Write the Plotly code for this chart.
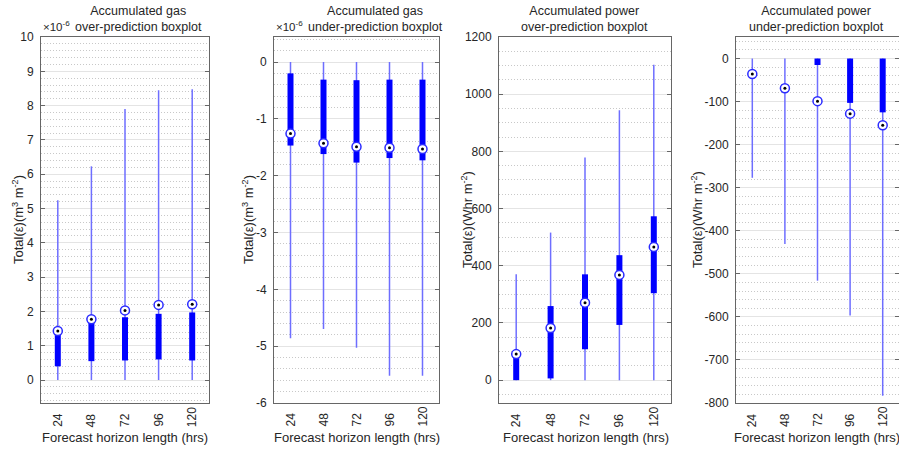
import plotly.graph_objects as go

W, H = 899, 449

horizons = ["24", "48", "72", "96", "120"]

# Accumulated gas over-prediction (x 1e-6 m^3 m^-2)
gas_over_min = [0, 0, 0, 0, 0]
gas_over_q1 = [0.40, 0.55, 0.57, 0.60, 0.57]
gas_over_q3 = [1.35, 1.70, 1.83, 1.93, 1.97]
gas_over_med = [1.43, 1.77, 2.03, 2.19, 2.21]
gas_over_max = [5.24, 6.23, 7.90, 8.45, 8.48]

# Accumulated gas under-prediction (x 1e-6 m^3 m^-2)
gas_under_max = [0, 0, 0, 0, 0]
gas_under_q3 = [-0.20, -0.31, -0.32, -0.31, -0.31]
gas_under_q1 = [-1.47, -1.62, -1.77, -1.69, -1.73]
gas_under_med = [-1.26, -1.43, -1.49, -1.51, -1.53]
gas_under_min = [-4.86, -4.70, -5.03, -5.52, -5.52]

# Accumulated power over-prediction (Whr m^-2)
pow_over_min = [0, 0, 0, 0, 0]
pow_over_q1 = [0, 6, 108, 193, 304]
pow_over_q3 = [80, 259, 370, 437, 573]
pow_over_med = [91, 182, 271, 368, 466]
pow_over_max = [370, 516, 779, 944, 1103]

# Accumulated power under-prediction (Whr m^-2)
pow_under_max = [0, 0, 0, 0, 0]
pow_under_q3 = [0, 0, 0, 0, 0]
pow_under_q1 = [0, 0, -15, -103, -125]
pow_under_med = [-36, -69, -99, -128, -155]
pow_under_min = [-277, -431, -516, -597, -783]

titles = ["Accumulated gas<br>over-prediction boxplot",
          "Accumulated gas<br>under-prediction boxplot",
          "Accumulated power<br>over-prediction boxplot",
          "Accumulated power<br>under-prediction boxplot"]
ylabels = ["Total(ε)(m<sup>3</sup> m<sup>-2</sup>)",
           "Total(ε)(m<sup>3</sup> m<sup>-2</sup>)",
           "Total(ε)(Whr m<sup>-2</sup>)",
           "Total(ε)(Whr m<sup>-2</sup>)"]
xlabel = "Forecast horizon length (hrs)"

panels = [
    dict(lo=gas_over_min, q1=gas_over_q1, q3=gas_over_q3, med=gas_over_med, hi=gas_over_max,
         yrange=[-0.67, 10], ticks=list(range(0, 11)), minor=0.2, exp=True),
    dict(lo=gas_under_min, q1=gas_under_q1, q3=gas_under_q3, med=gas_under_med, hi=gas_under_max,
         yrange=[-6, 0.44], ticks=list(range(-6, 1)), minor=0.2, exp=True),
    dict(lo=pow_over_min, q1=pow_over_q1, q3=pow_over_q3, med=pow_over_med, hi=pow_over_max,
         yrange=[-80, 1200], ticks=list(range(0, 1201, 200)), minor=50, exp=False),
    dict(lo=pow_under_min, q1=pow_under_q1, q3=pow_under_q3, med=pow_under_med, hi=pow_under_max,
         yrange=[-800, 50], ticks=list(range(-800, 1, 100)), minor=20, exp=False),
]

# layout geometry (pixels)
xdom_px = [(41, 209), (274, 439), (499, 671), (736, 899)]
ytop, ybot = 37, 403
title_cx = [138.5, 375.5, 584, 816]
ytitle_cx = [18, 248, 467, 697]
xtitle_cx = [125, 357, 586, 817]

FONT = "Liberation Sans, Arial, sans-serif"
TXT = "#262626"
BLUE = "#0000ff"
WHISK = "rgb(110,110,255)"

def px2x(p):
    return p / W

def px2y(p):
    return 1 - p / H

fig = go.Figure()
xpos = list(range(1, len(horizons) + 1))

for i, p in enumerate(panels):
    n = "" if i == 0 else str(i + 1)
    xa, ya = "x" + n, "y" + n
    # whiskers
    wx, wy = [], []
    for k, x in enumerate(xpos):
        wx += [x, x, None]
        wy += [p["lo"][k], p["hi"][k], None]
    fig.add_trace(go.Scatter(x=wx, y=wy, mode="lines", xaxis=xa, yaxis=ya,
                             line=dict(color=WHISK, width=1.5), showlegend=False,
                             hoverinfo="skip"))
    # boxes
    bx, by = [], []
    for k, x in enumerate(xpos):
        bx += [x, x, None]
        by += [p["q1"][k], p["q3"][k], None]
    fig.add_trace(go.Scatter(x=bx, y=by, mode="lines", xaxis=xa, yaxis=ya,
                             line=dict(color=BLUE, width=6), showlegend=False,
                             hoverinfo="skip"))
    # median markers
    fig.add_trace(go.Scatter(x=xpos, y=p["med"], mode="markers", xaxis=xa, yaxis=ya,
                             marker=dict(symbol="circle", size=9, color="white",
                                         line=dict(color="#2a2aff", width=1.5)),
                             showlegend=False))
    fig.add_trace(go.Scatter(x=xpos, y=p["med"], mode="markers", xaxis=xa, yaxis=ya,
                             marker=dict(symbol="circle", size=3, color="black"),
                             showlegend=False, hoverinfo="skip"))

    x0, x1 = xdom_px[i]
    xdom = [px2x(x0), min(1.0, px2x(x1))]
    ydom = [px2y(ybot), px2y(ytop)]
    fig.layout["xaxis" + n] = dict(
        domain=xdom, range=[0.5, 5.5], anchor=ya, showgrid=False, zeroline=False,
        showline=True, linecolor="#666", linewidth=1, mirror=True, automargin=False,
        showticklabels=False, ticks="", fixedrange=True)
    fig.layout["yaxis" + n] = dict(
        domain=ydom, range=p["yrange"], anchor=xa, zeroline=False, automargin=False,
        showline=True, linecolor="#666", linewidth=1, mirror="ticks",
        ticks="inside", ticklen=4, tickcolor="#666",
        tickvals=p["ticks"], ticktext=[str(t) for t in p["ticks"]],
        tickfont=dict(family=FONT, size=12, color=TXT),
        ticklabelstandoff=4,
        showgrid=True, gridcolor="#e4e4e4", gridwidth=1,
        minor=dict(dtick=p["minor"], tick0=0, showgrid=True, gridcolor="#c8c8c8",
                   griddash="1px,2px", gridwidth=1, ticks=""),
        fixedrange=True)

    # titles
    fig.add_annotation(text=titles[i], x=px2x(title_cx[i]), y=px2y(19), xref="paper", yref="paper",
                       showarrow=False, xanchor="center", yanchor="middle",
                       font=dict(family=FONT, size=12.5, color=TXT))
    # y label
    fig.add_annotation(text=ylabels[i], x=px2x(ytitle_cx[i]), y=px2y((ytop + ybot) / 2),
                       xref="paper", yref="paper", showarrow=False, textangle=-90,
                       xanchor="center", yanchor="middle",
                       font=dict(family=FONT, size=13, color=TXT))
    # x label
    fig.add_annotation(text=xlabel, x=px2x(xtitle_cx[i]), y=px2y(437.5),
                       xref="paper", yref="paper", showarrow=False,
                       xanchor="center", yanchor="middle",
                       font=dict(family=FONT, size=13, color=TXT))
    # x tick labels (rotated, bottom aligned)
    for k, lab in enumerate(horizons):
        fig.add_annotation(text=lab, x=xpos[k], y=px2y(429), xref=xa, yref="paper",
                           showarrow=False, textangle=-90, xanchor="center", yanchor="bottom",
                           font=dict(family=FONT, size=12, color=TXT))
    # exponent
    if p["exp"]:
        fig.add_annotation(text="×10<sup>-6</sup>", x=px2x(x0), y=px2y(35),
                           xref="paper", yref="paper", showarrow=False,
                           xanchor="left", yanchor="bottom",
                           font=dict(family=FONT, size=11.5, color=TXT))

fig.update_layout(width=W, height=H, margin=dict(l=0, r=0, t=0, b=0, autoexpand=False),
                  paper_bgcolor="white", plot_bgcolor="white", showlegend=False)

fig.write_html("out.html")
